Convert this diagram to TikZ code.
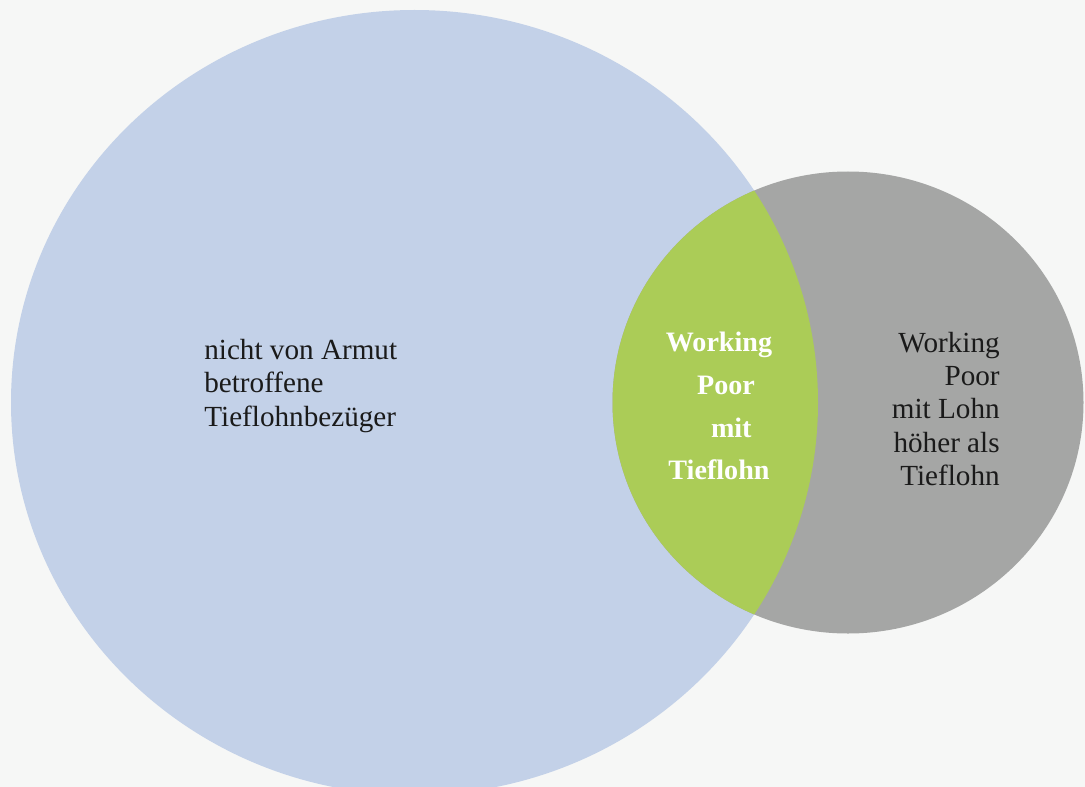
\documentclass[tikz,border=0pt]{standalone}
\usepackage{fontspec}
\setmainfont{Liberation Serif}
\definecolor{paper}{HTML}{F6F7F6}
\definecolor{armblue}{HTML}{C3D1E8}
\definecolor{wpgreen}{HTML}{ABCC57}
\definecolor{wpgray}{HTML}{A5A6A5}
\definecolor{ink}{HTML}{1A1A1A}
\tikzstyle{every node}=[font=\fontsize{16.6}{18.8}\selectfont,inner sep=0pt]
\tikzstyle{set text}=[text=ink]
\tikzstyle{core text}=[text=white,font=\fontsize{16}{24.4}\selectfont\bfseries]

\begin{document}
\begin{tikzpicture}[x=0.02cm,y=-0.02cm]
    \useasboundingbox (0,0) rectangle (1085,787);
    \clip (0,0) rectangle (1085,787);
    \fill[paper] (0,0) rectangle (1085,787);

    % the two sets
    \fill[armblue] (414.5,402.5) ellipse [x radius=403.5,y radius=392.5];
    \fill[wpgray] (848,402.5) ellipse [x radius=235.5,y radius=231];

    % overlap
    \begin{scope}
        \clip (414.5,402.5) ellipse [x radius=403.5,y radius=392.5];
        \fill[wpgreen] (848,402.5) ellipse [x radius=235.5,y radius=231];
    \end{scope}

    % labels
    \node[set text,anchor=west,align=left] (tiefl) at (204,386)
        {nicht von Armut\\betroffene\\Tieflohnbezüger};
    \node[core text,align=center] (wpmit) at (719,406)
        {Working\\\hspace*{8pt}Poor\\\hspace*{14pt}mit\\Tieflohn};
    \node[set text,anchor=east,align=right] (wphoch) at (1000,409)
        {Working\\Poor\\mit Lohn\\höher als\\Tieflohn};
\end{tikzpicture}
\end{document}
